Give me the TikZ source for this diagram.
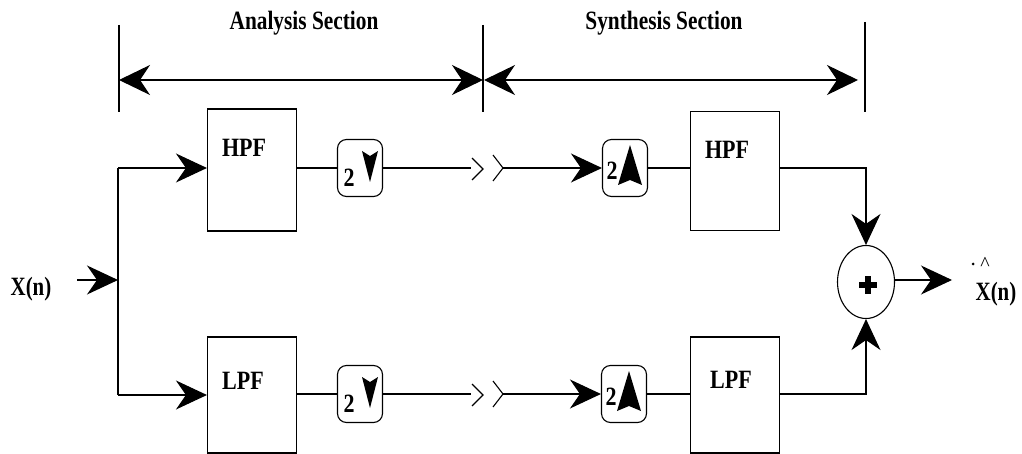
\documentclass[tikz,border=0pt]{standalone}
\usepackage{fontspec}
\setmainfont{Liberation Serif}
\usetikzlibrary{arrows.meta,shapes.geometric,calc}
\begin{document}
\begin{tikzpicture}[x=1pt,y=-1pt,
  wire/.style={line width=1.1pt},
  bigtip/.style={-{Stealth[length=31pt,width=29pt,inset=10pt]}},
  dbltip/.style={{Stealth[length=31pt,width=30pt,inset=10pt]}-{Stealth[length=31pt,width=30pt,inset=10pt]}},
  filt/.style={draw, line width=1.1pt, minimum width=89pt, inner sep=0pt},
  samp/.style={draw, line width=1.1pt, rounded corners=9pt, minimum width=45pt, minimum height=57pt, inner sep=0pt},
  lbl/.style={font=\fontsize{22}{22}\selectfont\bfseries, inner sep=0pt},
  chev/.style={line width=1.1pt},
  sumst/.style={draw, line width=1.1pt, ellipse, minimum width=57pt, minimum height=73pt, inner sep=0pt}
]
\useasboundingbox (0,0) rectangle (1022,454);

% section markers
\coordinate (m1t) at (119,25);  \coordinate (m1b) at (119,112);
\coordinate (m2t) at (483,25);  \coordinate (m2b) at (483,112);
\coordinate (m3t) at (865,22);  \coordinate (m3b) at (865,112);
\draw[wire] (m1t) -- (m1b);
\draw[wire] (m2t) -- (m2b);
\draw[wire] (m3t) -- (m3b);
\coordinate (a1l) at (119,80); \coordinate (a1r) at (483,80);
\coordinate (a2l) at (484,80); \coordinate (a2r) at (858,80);
\draw[wire,dbltip] (a1l) -- (a1r);
\draw[wire,dbltip] (a2l) -- (a2r);
\node[lbl] (anal) at (304,23) {\scalebox{0.97}[1.2]{Analysis Section}};
\node[lbl] (synt) at (664,23) {\scalebox{0.97}[1.2]{Synthesis Section}};

% input
\node[lbl] (xin) at (31,289) {\scalebox{0.95}[1.2]{X(n)}};
\coordinate (inS) at (77,280);
\coordinate (busM) at (118,280);
\coordinate (busT) at (118,168);
\coordinate (busB) at (118,395);
\draw[wire] (busT) -- (busB);
\draw[wire,bigtip] (inS) -- (busM);

% filters and samplers
\node[filt, minimum height=122pt] (hpfA) at (252,170) {};
\node[lbl] (hpfAt) at (244,148) {\scalebox{1}[1.2]{HPF}};
\node[filt, minimum height=116pt] (lpfA) at (252,395) {};
\node[lbl] (lpfAt) at (243,381) {\scalebox{1}[1.2]{LPF}};
\node[filt, minimum height=119pt] (hpfB) at (735,171) {};
\node[lbl] (hpfBt) at (727,150) {\scalebox{1}[1.2]{HPF}};
\node[filt, minimum height=116pt] (lpfB) at (735,395) {};
\node[lbl] (lpfBt) at (731,380) {\scalebox{1}[1.2]{LPF}};

\node[samp] (dnA) at (360,168) {};
\node[samp] (dnB) at (360,394) {};
\node[samp] (upA) at (625,168) {};
\node[samp] (upB) at (624,394) {};

% sampler contents
\foreach \s in {dnA,dnB}{
  \node[lbl] at ($(\s.center)+(-11,10)$) {\scalebox{1}[1.2]{2}};
  \fill[shift={(\s.center)}] (10,14) -- (2,-17) -- (10,-12) -- (18,-17) -- cycle;
}
\foreach \s in {upA,upB}{
  \node[lbl] at ($(\s.center)+(-13,3)$) {\scalebox{1}[1.2]{2}};
  \fill[shift={(\s.center)}] (5,-23) -- (-7,17) -- (5,12) -- (17,17) -- cycle;
}

% sum
\node[sumst] (sum) at (866,282) {};
\draw[line width=6pt, shift={(sum.center)}] (-7,3) -- (11,3) (2,-6) -- (2,12);

% upper branch
\draw[wire,bigtip] (busT) -- (busT -| hpfA.west);
\draw[wire] (hpfA.east |- dnA) -- (dnA.west);
\coordinate (brA1) at (471,168);
\coordinate (brA2) at (503,168);
\draw[wire] (dnA.east) -- (brA1);
\draw[chev] (472,158) -- (483,169) -- (472,180);
\draw[chev] (493,155) -- (503,168) -- (493,181);
\draw[wire,bigtip] (brA2) -- (upA.west);
\draw[wire] (upA.east) -- (upA.east -| hpfB.west);
\draw[wire,bigtip] (hpfB.east |- upA) -| (sum.north);

% lower branch
\draw[wire,bigtip] (busB) -- (busB -| lpfA.west);
\draw[wire] (lpfA.east |- dnB) -- (dnB.west);
\coordinate (brB1) at (471,394);
\coordinate (brB2) at (503,394);
\draw[wire] (dnB.east) -- (brB1);
\draw[chev] (472,384) -- (483,395) -- (472,406);
\draw[chev] (493,381) -- (503,394) -- (493,407);
\draw[wire,bigtip] (brB2) -- (upB.west);
\draw[wire] (upB.east) -- (upB.east -| lpfB.west);
\draw[wire,bigtip] (lpfB.east |- upB) -| (sum.south);

% output
\coordinate (outE) at (952,280);
\draw[wire,bigtip] (sum.east |- outE) -- (outE);
\node[lbl] (xout) at (996,294) {\scalebox{0.95}[1.2]{X(n)}};
\node[font=\fontsize{20}{20}\selectfont, inner sep=0pt] (hat) at (985,264) {\textasciicircum};
\fill (973,264) circle (1.5);
\end{tikzpicture}
\end{document}
